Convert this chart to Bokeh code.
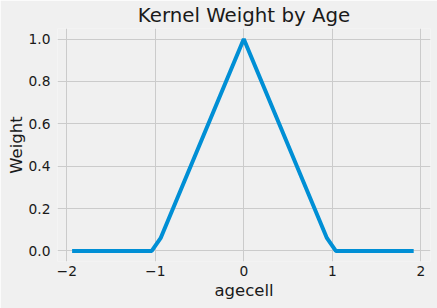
from bokeh.plotting import figure
from bokeh.models import FixedTicker, Range1d, PrintfTickFormatter
from bokeh.embed import file_html
from bokeh.resources import INLINE

agecell = [-1.94, -1.04, -0.94, 0.0, 0.94, 1.04, 1.92]
weight = [0.0, 0.0, 0.06, 1.0, 0.06, 0.0, 0.0]
x_ticks = [-2, -1, 0, 1, 2]
y_ticks = [0.0, 0.2, 0.4, 0.6, 0.8, 1.0]

BG = "#f0f0f0"
GRID = "#cbcbcb"
TXT = "#1a1a1a"
FONT = "DejaVu Sans"

p = figure(width=437, height=308, output_backend="svg", toolbar_location=None,
           x_range=Range1d(-2.105, 2.11), y_range=Range1d(-0.05, 1.05),
           min_border_left=57, min_border_right=7, min_border_top=28, min_border_bottom=47,
           background_fill_color=BG, border_fill_color=BG)
p.outline_line_color = None

p.title.text = "Kernel Weight by Age"
p.title.align = "center"
p.title.text_font = FONT
p.title.text_font_size = "19.8px"
p.title.text_font_style = "normal"
p.title.text_color = TXT
p.title.standoff = 3

p.line(agecell, weight, line_color="#008fd5", line_width=4)

for ax in (p.xaxis[0], p.yaxis[0]):
    ax.axis_line_color = None
    ax.major_tick_line_color = None
    ax.minor_tick_line_color = None
    ax.major_tick_out = 0
    ax.major_tick_in = 0
    ax.minor_tick_out = 0
    ax.minor_tick_in = 0
    ax.major_label_text_font = FONT
    ax.major_label_text_font_size = "13.8px"
    ax.major_label_text_color = TXT
    ax.axis_label_text_font = FONT
    ax.axis_label_text_font_size = "16.5px"
    ax.axis_label_text_font_style = "normal"
    ax.axis_label_text_color = TXT

p.xaxis.ticker = FixedTicker(ticks=x_ticks)
p.xaxis.major_label_overrides = {t: (str(t) if t >= 0 else "\u2212" + str(-t)) for t in x_ticks}
p.xaxis.axis_label = "agecell"
p.xaxis.major_label_standoff = 4
p.xaxis.axis_label_standoff = 2

p.yaxis.ticker = FixedTicker(ticks=y_ticks)
p.yaxis.formatter = PrintfTickFormatter(format="%.1f")
p.yaxis.axis_label = "Weight"
p.yaxis.major_label_standoff = 7
p.yaxis.axis_label_standoff = 0

p.xgrid.ticker = FixedTicker(ticks=x_ticks)
p.ygrid.ticker = FixedTicker(ticks=y_ticks)
p.grid.grid_line_color = GRID
p.grid.grid_line_width = 1

open("out.html", "w").write(file_html(p, INLINE))
